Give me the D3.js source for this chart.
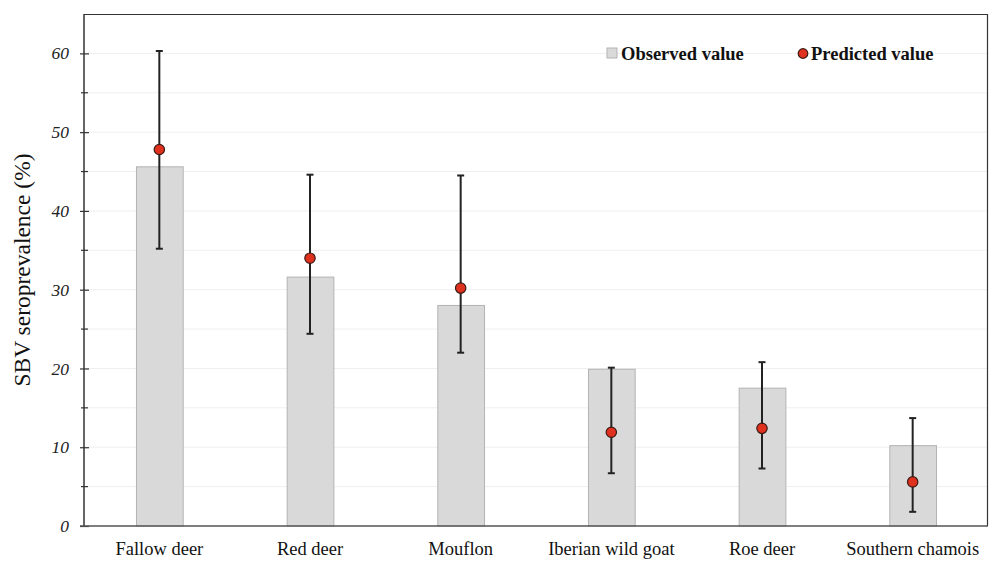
<!DOCTYPE html>
<html><head><meta charset="utf-8">
<script src="https://cdn.jsdelivr.net/npm/d3@7"></script>
<style>body{margin:0;background:#fff}</style>
</head><body>
<svg id="chart" width="992" height="561"></svg>
<script>
const categories = ["Fallow deer","Red deer","Mouflon","Iberian wild goat","Roe deer","Southern chamois"];
const observed = [45.6, 31.6, 28.0, 19.9, 17.5, 10.2];
const predicted = [47.8, 34.0, 30.2, 11.9, 12.4, 5.6];
const ciLower = [35.2, 24.4, 22.0, 6.7, 7.3, 1.8];
const ciUpper = [60.3, 44.6, 44.5, 20.1, 20.8, 13.7];
const yTicks = [0,10,20,30,40,50,60];
const yMinorTicks = [5,15,25,35,45,55];

const svg = d3.select("#chart");
const m = {l:84, t:14, r:4, b:35};
const W = 992, H = 561;
const x0 = m.l, x1 = W - m.r, y0 = H - m.b, y1 = m.t;
const x = d3.scaleBand().domain(categories).range([x0, x1]).paddingInner(0.69).paddingOuter(0.345);
const y = d3.scaleLinear().domain([0, 65]).range([y0, y1]);
const serif = "'Liberation Serif','Times New Roman',serif";

// gridlines
svg.append("g").selectAll("line").data(d3.range(5, 65, 5)).join("line")
  .attr("x1", x0).attr("x2", x1).attr("y1", d=>y(d)).attr("y2", d=>y(d))
  .attr("stroke", "#efefef").attr("stroke-width", 1);

// bars
svg.append("g").selectAll("rect").data(categories).join("rect")
  .attr("x", d=>x(d)+0.5).attr("width", x.bandwidth())
  .attr("y", (d,i)=>y(observed[i])).attr("height", (d,i)=>y(0)-y(observed[i]))
  .attr("fill", "#d9d9d9").attr("stroke", "#b3b3b3").attr("stroke-width", 1);

// error bars
const eb = svg.append("g").attr("stroke", "#222");
categories.forEach((c,i)=>{
  const cx = x(c) + x.bandwidth()/2;
  eb.append("line").attr("x1",cx).attr("x2",cx).attr("y1",y(ciLower[i])).attr("y2",y(ciUpper[i])).attr("stroke-width",2);
  eb.append("line").attr("x1",cx-3.5).attr("x2",cx+3.5).attr("y1",y(ciLower[i])).attr("y2",y(ciLower[i])).attr("stroke-width",2);
  eb.append("line").attr("x1",cx-3.5).attr("x2",cx+3.5).attr("y1",y(ciUpper[i])).attr("y2",y(ciUpper[i])).attr("stroke-width",2);
});

// points
svg.append("g").selectAll("circle").data(categories).join("circle")
  .attr("cx", d=>x(d)+x.bandwidth()/2).attr("cy", (d,i)=>y(predicted[i]))
  .attr("r", 5.2).attr("fill", "#e0311f").attr("stroke", "#3a1a14").attr("stroke-width", 1.2);

// frame
svg.append("line").attr("x1",x0).attr("x2",x1).attr("y1",y1+0.5).attr("y2",y1+0.5).attr("stroke","#333").attr("stroke-width",1.2);
svg.append("line").attr("x1",x1-0.5).attr("x2",x1-0.5).attr("y1",y1).attr("y2",y0).attr("stroke","#333").attr("stroke-width",1.2);

// y axis
const ya = svg.append("g").attr("transform", `translate(${x0},0)`)
  .call(d3.axisLeft(y).tickValues(yTicks).tickSize(4).tickPadding(11));
ya.select(".domain").attr("stroke","#333").attr("stroke-width",1.5).attr("d", `M0,${y0}V${y1}`);
ya.selectAll(".tick line").attr("stroke","#333").attr("stroke-width",1.2).attr("x1",5).attr("x2",-4);
ya.selectAll(".tick text").attr("font-family",serif).attr("font-style","italic").attr("font-size",17.5).attr("fill","#222");
svg.append("g").selectAll("line").data(yMinorTicks).join("line")
  .attr("x1",x0-3).attr("x2",x0+4).attr("y1",d=>y(d)).attr("y2",d=>y(d)).attr("stroke","#333").attr("stroke-width",1.2);

// x axis
const xa = svg.append("g").attr("transform", `translate(0,${y0})`)
  .call(d3.axisBottom(x).tickSize(0).tickPadding(16));
xa.select(".domain").attr("stroke","#555").attr("stroke-width",1.5).attr("d", `M${x0-4},0H${x1}`);
xa.selectAll(".tick text").attr("font-family",serif).attr("font-size",18.5).attr("fill","#111");

// y label
svg.append("text").attr("transform", `translate(30,${(y0+y1)/2}) rotate(-90)`)
  .attr("text-anchor","middle").attr("font-family",serif).attr("font-size",23.5).attr("fill","#111")
  .text("SBV seroprevalence (%)");

// legend
const lg = svg.append("g").attr("font-family",serif).attr("font-weight","bold").attr("font-size",18.5).attr("fill","#111");
lg.append("rect").attr("x",607).attr("y",48).attr("width",10).attr("height",10).attr("fill","#d9d9d9").attr("stroke","#b3b3b3");
lg.append("text").attr("x",621).attr("y",60).text("Observed value");
lg.append("circle").attr("cx",803).attr("cy",53.5).attr("r",4.8).attr("fill","#e0311f").attr("stroke","#3a1a14").attr("stroke-width",1.2);
lg.append("text").attr("x",811).attr("y",60).text("Predicted value");
</script>
</body></html>
